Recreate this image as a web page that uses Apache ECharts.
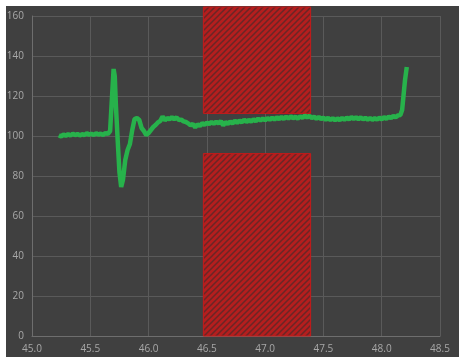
<!DOCTYPE html>
<html><head><meta charset="utf-8">
<script src="https://cdn.jsdelivr.net/npm/echarts@6/dist/echarts.min.js"></script>
<style>html,body{margin:0;padding:0;background:#fff;}#c{width:462px;height:362px;}</style>
</head><body><div id="c"></div>
<script>
const xValues = [45.23,45.25,45.27,45.29,45.31,45.33,45.35,45.37,45.39,45.41,45.43,45.45,45.47,45.49,45.51,45.53,45.55,45.57,45.59,45.61,45.63,45.65,45.67,45.685,45.70,45.71,45.72,45.735,45.75,45.765,45.78,45.80,45.82,45.84,45.86,45.88,45.90,45.92,45.94,45.96,45.98,46.00,46.02,46.04,46.06,46.08,46.10,46.12,46.14,46.16,46.18,46.20,46.22,46.24,46.26,46.28,46.30,46.32,46.34,46.36,46.38,46.40,46.42,46.44,46.46,46.48,46.50,46.52,46.54,46.56,46.58,46.60,46.62,46.64,46.66,46.68,46.70,46.72,46.74,46.76,46.78,46.80,46.82,46.84,46.86,46.88,46.90,46.92,46.94,46.96,46.98,47.00,47.02,47.04,47.06,47.08,47.10,47.12,47.14,47.16,47.18,47.20,47.22,47.24,47.26,47.28,47.30,47.32,47.34,47.36,47.38,47.40,47.42,47.44,47.46,47.48,47.50,47.52,47.54,47.56,47.58,47.60,47.62,47.64,47.66,47.68,47.70,47.72,47.74,47.76,47.78,47.80,47.82,47.84,47.86,47.88,47.90,47.92,47.94,47.96,47.98,48.00,48.02,48.04,48.06,48.08,48.10,48.12,48.14,48.16,48.175,48.19,48.20,48.215];
const yValues = [100.4,99.8,100.7,100.1,100.9,100.2,101.2,100.4,101.0,100.3,100.9,100.5,101.4,100.6,101.1,100.5,101.4,100.7,101.2,100.5,101.5,101.0,102.5,118,133.5,130,115,98,82,74.5,78,88,93,96,103,108.5,109,108,104,102.5,100.5,101.5,103,104.5,105.5,106.8,107.5,109.8,107.8,109.0,108.3,109.4,108.4,109.3,108.0,108.2,107.3,107.0,106.3,105.3,106.0,104.3,105.8,105.0,106.4,105.6,106.7,105.9,107.0,106.1,107.2,106.2,107.5,105.3,107.0,106.0,107.2,106.3,107.6,106.6,107.7,106.8,108.2,107.0,108.1,107.2,108.4,107.4,108.7,107.7,108.8,107.8,109.0,108.1,109.2,108.2,109.4,108.4,109.5,108.5,109.7,108.7,109.8,108.9,109.6,108.7,109.8,109.1,110.2,109.3,110.1,109.0,109.7,108.6,109.5,108.4,109.2,108.1,109.1,108.0,108.9,107.8,108.8,107.9,109.0,108.1,109.2,108.3,109.5,108.5,109.4,108.4,109.3,108.3,109.1,108.2,109.0,108.1,108.9,108.2,109.2,108.3,109.4,108.6,109.7,108.9,110.0,109.4,110.3,110.5,113,122,128,134.5];
const zoneX = [46.47, 47.39];
const zoneUpper = [111.3, 164.5];
const zoneLower = [0, 91.2];
const xTicks = [45.0, 48.5, 0.5];
const yTicks = [0, 160, 20];
const zones = [[zoneX[0], zoneUpper[0], zoneX[1], zoneUpper[1]], [zoneX[0], zoneLower[0], zoneX[1], zoneLower[1]]];

const pc = document.createElement('canvas');
pc.width = 6; pc.height = 6;
const g = pc.getContext('2d');
g.fillStyle = '#b41e1e'; g.fillRect(0,0,6,6);
g.strokeStyle = '#6a2626'; g.lineWidth = 1.5;
g.beginPath();
g.moveTo(-1,1); g.lineTo(1,-1);
g.moveTo(0,6); g.lineTo(6,0);
g.moveTo(5,7); g.lineTo(7,5);
g.stroke();

const chart = echarts.init(document.getElementById('c'));
chart.setOption({
  backgroundColor: '#ffffff',
  animation: false,
  graphic: [{type:'rect', z:-10, shape:{x:6,y:6,width:453,height:351}, style:{fill:'#404040'}}],
  grid: {left: 32, right: 22, top: 16, bottom: 26},
  xAxis: {type:'value', min:xTicks[0], max:xTicks[1], interval:xTicks[2],
    axisLine:{show:true, lineStyle:{color:'#6e6e6e', width:1}}, axisTick:{show:false},
    splitLine:{show:true, lineStyle:{color:'#5a5a5a', width:1}},
    axisLabel:{color:'#a8a8a8', fontSize:10, fontFamily:'Open Sans', margin:8, formatter:v=>v.toFixed(1)}},
  yAxis: {type:'value', min:yTicks[0], max:yTicks[1], interval:yTicks[2],
    axisLine:{show:true, lineStyle:{color:'#6e6e6e', width:1}}, axisTick:{show:false},
    splitLine:{show:true, lineStyle:{color:'#5a5a5a', width:1}},
    axisLabel:{color:'#a8a8a8', fontSize:10, fontFamily:'Open Sans', margin:8}},
  series: [
    {type:'custom', clip:false, silent:true, data: zones, z:3,
     renderItem: function(params, api){
       const p0 = api.coord([api.value(0), api.value(3)]);
       const p1 = api.coord([api.value(2), api.value(1)]);
       return {type:'rect', shape:{x:p0[0], y:p0[1], width:p1[0]-p0[0], height:p1[1]-p0[1]},
         style:{fill:{image:pc, repeat:'repeat'}, stroke:'#c41a1a', lineWidth:1}};
     }},
    {type:'line', data: xValues.map((x,i)=>[x,yValues[i]]), showSymbol:false, smooth:false,
     lineStyle:{color:'#27b24b', width:4.5}, z:5}
  ]
});
</script></body></html>
